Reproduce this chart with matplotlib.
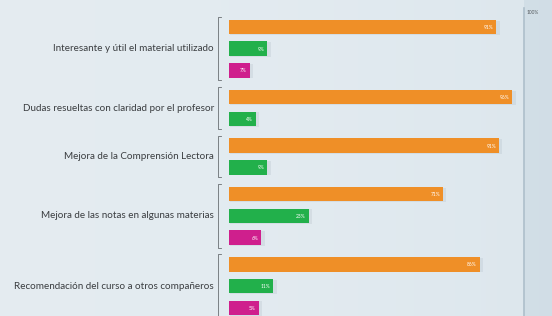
import matplotlib.pyplot as plt
import numpy as np

# Survey categories and results (% of students)
categories = ['Interesante y útil el material utilizado',
              'Dudas resueltas con claridad por el profesor',
              'Mejora de la Comprensión Lectora',
              'Mejora de las notas en algunas materias',
              'Recomendación del curso a otros compañeros']

# label values as printed on the bars
labels_pct = [[91, 9, 7],
              [96, 4],
              [91, 9],
              [71, 23, 6],
              [86, 11, 5]]

# bar lengths as drawn in the picture (same scale, 0-100)
bar_len = [[90.5, 13, 7],
           [96, 9],
           [91.5, 13],
           [72.5, 27, 11],
           [85, 15, 10]]

colors = ['#ef8f27', '#22b04b', '#cf1f8d']

W, H = 552, 316
fig = plt.figure(figsize=(W / 100, H / 100), dpi=100)

# background gradient
bg = fig.add_axes([0, 0, 1, 1])
grad = np.linspace(0, 1, 256)
bg_img = np.zeros((2, 256, 3))
left = np.array([0.895, 0.925, 0.945])
right = np.array([0.865, 0.905, 0.93])
for k in range(3):
    bg_img[:, :, k] = left[k] + (right[k] - left[k]) * grad ** 2
bg.imshow(bg_img, aspect='auto', extent=[0, 1, 0, 1])
bg.axvspan(524 / W, 1, color='#cad8e2', alpha=0.6, lw=0)
bg.set_xlim(0, 1)
bg.set_ylim(0, 1)
bg.axis('off')

x0, x1 = 229, 524
ax = fig.add_axes([x0 / W, 0, (x1 - x0) / W, 1])
ax.set_xlim(0, 100)
ax.set_ylim(H, 0)
ax.axis('off')
ax.patch.set_alpha(0)

px = (x1 - x0) / 100.0  # pixels per percent

slot = 21.7
group_gap = 26.8
bar_h = 14.5
y = 27.0
for g, cat in enumerate(categories):
    ys = []
    for i, (v, lab) in enumerate(zip(bar_len[g], labels_pct[g])):
        ys.append(y)
        # soft shadow
        ax.barh(y + 0.8, v + 1.0, left=0.2, height=bar_h, color='#8a99a5',
                alpha=0.15, lw=0, zorder=1)
        ax.barh(y, v, height=bar_h, color=colors[i], lw=0, zorder=2)
        ax.text(v - 1.0, y + 0.5, f'{lab}%', color='white', fontsize=3.5,
                ha='right', va='center', family='Lato', zorder=3)
        if i < len(bar_len[g]) - 1:
            y += slot
    # bracket
    top = ys[0] - 10
    bot = ys[-1] + 10
    bx = -11 / px
    tick = 3 / px
    ax.plot([bx + tick, bx, bx, bx + tick], [top, top, bot, bot],
            color='#6a6f73', lw=0.6, clip_on=False, zorder=2)
    ax.text(-15 / px, (ys[0] + ys[-1]) / 2, cat, ha='right', va='center',
            fontsize=7.1, color='#3a3d40', family='Lato', clip_on=False)
    y += group_gap

# 100% reference line
ax.plot([100, 100], [8, H], color='#aebfcb', lw=1.2, clip_on=False, zorder=0)
ax.text(100.8, 12, '100%', fontsize=3.5, color='#555a5e', ha='left',
        va='center', family='Lato', clip_on=False)

fig.savefig('out.png', dpi=100)
